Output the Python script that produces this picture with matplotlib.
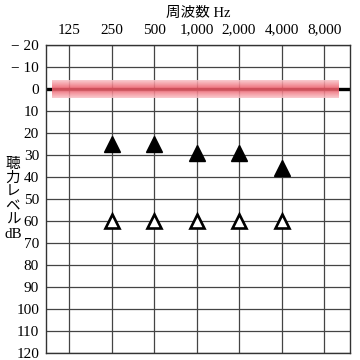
import numpy as np
import matplotlib
matplotlib.use("Agg")
import matplotlib.pyplot as plt
from matplotlib.colors import LinearSegmentedColormap

# 周波数と聴力レベルのデータ
freq_labels = ['125', '250', '500', '1,000', '2,000', '4,000', '8,000']
db_ticks = list(range(-20, 121, 10))
db_tick_labels = ['− 20', '− 10'] + [str(v) for v in range(0, 121, 10)]

air_freq_idx = [1, 2, 3, 4, 5]
air_db = [25, 25, 29, 29, 36]          # 塗りつぶし三角
bone_freq_idx = [1, 2, 3, 4, 5]
bone_db = [60, 60, 60, 60, 60]         # 白抜き三角

fonts = ['Liberation Serif', 'Noto Sans CJK JP']
plt.rcParams['font.family'] = fonts

fig = plt.figure(figsize=(3.6, 3.6), dpi=100)
ax = fig.add_axes([46/360, 7/360, 304/360, 308/360])

ax.set_xlim(-0.541, 6.61)
ax.set_ylim(120, -20)

# グリッド
for i in range(len(freq_labels)):
    ax.axvline(i, color='#444444', lw=0.9, zorder=1)
for v in db_ticks:
    ax.axhline(v, color='#444444', lw=0.9, zorder=1)

# 0 dB の太線
ax.axhline(0, color='black', lw=2.4, zorder=2)

# ピンクの帯（グラデーション）
cmap = LinearSegmentedColormap.from_list('band', ['#f9c4c9', '#ec5562', '#f9c4c9'])
grad = np.linspace(0, 1, 64).reshape(-1, 1)
ax.imshow(grad, cmap=cmap, aspect='auto', extent=[-0.4, 6.35, 4, -4],
          alpha=0.88, zorder=3, interpolation='bilinear')

ax.plot(air_freq_idx, air_db, linestyle='none', marker='^', ms=11,
        color='black', zorder=5)
ax.plot(bone_freq_idx, bone_db, linestyle='none', marker='^', ms=10,
        markerfacecolor='white', markeredgecolor='black', markeredgewidth=1.9,
        zorder=5)

ax.set_xticks(range(len(freq_labels)))
ax.set_xticklabels(freq_labels, fontsize=11)
ax.xaxis.tick_top()
ax.set_yticks(db_ticks)
ax.set_yticklabels(db_tick_labels, fontsize=11)
ax.tick_params(axis='x', length=0, pad=6)
ax.tick_params(axis='y', length=0, pad=5)

for s in ax.spines.values():
    s.set_color('#333333')
    s.set_linewidth(1.0)

fig.text(0.55, 1 - 13/360, '周波数 Hz', ha='center', va='center', fontsize=10.5,
         family=fonts)
ylab = ['聴', '力', 'レ', 'ベ', 'ル']
for k, ch in enumerate(ylab):
    fig.text(13/360, 1 - (164 + 14*k)/360, ch, ha='center', va='center',
             fontsize=10.5, family=['Noto Sans CJK JP'])
fig.text(13/360, 1 - 235/360, 'dB', ha='center', va='center', fontsize=11)

fig.savefig('out.png', dpi=100)
